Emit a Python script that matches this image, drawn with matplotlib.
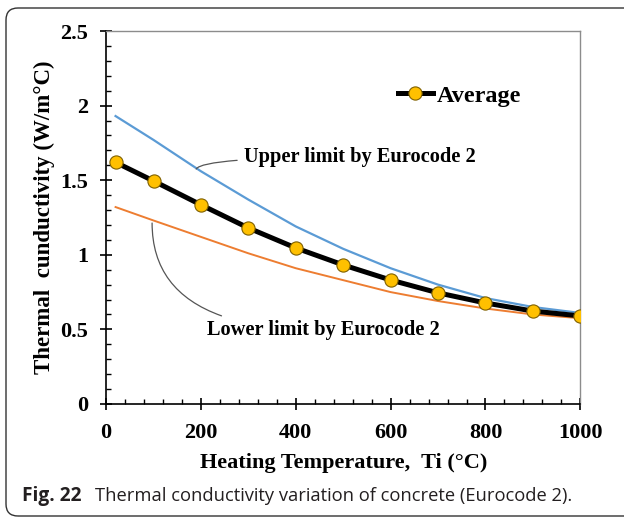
import numpy as np
import matplotlib.pyplot as plt
from matplotlib.patches import FancyBboxPatch
from matplotlib.ticker import MultipleLocator

# ======================================
# Data
# ======================================

temps = [20, 100, 200, 300, 400, 500, 600, 700, 800, 900, 1000]
average = [1.62, 1.495, 1.335, 1.18, 1.046, 0.932, 0.831, 0.745, 0.677, 0.623, 0.59]
upper = [1.93, 1.77, 1.56, 1.37, 1.19, 1.04, 0.91, 0.80, 0.71, 0.65, 0.61]
lower = [1.32, 1.23, 1.12, 1.01, 0.91, 0.83, 0.75, 0.69, 0.64, 0.60, 0.575]

x_ticks = [0, 200, 400, 600, 800, 1000]
x_tick_labels = ["0", "200", "400", "600", "800", "1000"]
y_ticks = [0, 0.5, 1, 1.5, 2, 2.5]
y_tick_labels = ["0", "0.5", "1", "1.5", "2", "2.5"]

serif = "Liberation Serif"

# ======================================
# Figure
# ======================================

fig = plt.figure(figsize=(6.24, 5.17), dpi=100)
ax = fig.add_axes([0.170, 0.2186, 0.760, 0.7214])

# rounded frame around the whole figure
frame = FancyBboxPatch((6, 1), 640, 508, boxstyle="round,pad=0,rounding_size=12",
                       transform=None, facecolor="none", edgecolor="#333333",
                       linewidth=1.0, clip_on=False)
fig.patches.append(frame)

ax.plot(temps, upper, color="#5B9BD5", linewidth=1.6)
ax.plot(temps, lower, color="#ED7D31", linewidth=1.4)
ax.plot(temps, average, color="black", linewidth=3.6, marker="o",
        markersize=9.5, markerfacecolor="#FFC000", markeredgecolor="#7F6000",
        markeredgewidth=0.8, label="Average", zorder=5)

ax.set_xlim(0, 1000)
ax.set_ylim(0, 2.5)
ax.set_xticks(x_ticks)
ax.set_xticklabels(x_tick_labels)
ax.set_yticks(y_ticks)
ax.set_yticklabels(y_tick_labels)
ax.xaxis.set_minor_locator(MultipleLocator(40))
ax.yaxis.set_minor_locator(MultipleLocator(0.1))

ax.tick_params(which="major", direction="inout", length=8, width=1.2, pad=9,
               color="black")
ax.tick_params(which="minor", direction="in", length=3.5, width=1.0,
               color="black")
ax.tick_params(axis="x", which="major", pad=10)
for lab in ax.get_xticklabels() + ax.get_yticklabels():
    lab.set_fontfamily(serif)
    lab.set_fontweight("bold")
    lab.set_fontsize(16)

for side in ["left", "bottom"]:
    ax.spines[side].set_color("black")
    ax.spines[side].set_linewidth(1.2)
for side in ["top", "right"]:
    ax.spines[side].set_color("#8c8c8c")
    ax.spines[side].set_linewidth(1.0)

ax.set_xlabel("Heating Temperature,  Ti (\u00b0C)", fontfamily=serif,
              fontweight="bold", fontsize=16, labelpad=7)
ax.set_ylabel("Thermal  cunductivity (W/m\u00b0C)", fontfamily=serif,
              fontweight="bold", fontsize=16.5, labelpad=4)

# annotations
ax.annotate("Upper limit by Eurocode 2", xy=(190, 1.575), xytext=(291, 1.655),
            fontfamily=serif, fontweight="bold", fontsize=14.7, va="center",
            ha="left",
            arrowprops=dict(arrowstyle="-", color="#555555", linewidth=0.9,
                            connectionstyle="angle3,angleA=0,angleB=60",
                            shrinkA=3, shrinkB=0))
ax.annotate("Lower limit by Eurocode 2", xy=(97, 1.213), xytext=(213, 0.496),
            fontfamily=serif, fontweight="bold", fontsize=14.7, va="center",
            ha="left",
            arrowprops=dict(arrowstyle="-", color="#555555", linewidth=0.9,
                            connectionstyle="angle3,angleA=0,angleB=90",
                            shrinkA=3, shrinkB=0))

leg = ax.legend(loc="center left", bbox_to_anchor=(0.615, 0.826), frameon=False,
                borderpad=0, borderaxespad=0, handlelength=1.45, handletextpad=0.15,
                prop={"family": serif, "weight": "bold", "size": 17.5})

# caption
fig.text(22 / 624, 1 - 496 / 517, "Fig. 22", fontfamily="Open Sans",
         fontweight="bold", fontsize=13.8, color="#231f20", va="center", ha="left")
fig.text(95 / 624, 1 - 496 / 517,
         "Thermal conductivity variation of concrete (Eurocode 2).",
         fontfamily="Open Sans", fontsize=13.2, color="#231f20",
         va="center", ha="left")

fig.savefig("out.png", dpi=100)
